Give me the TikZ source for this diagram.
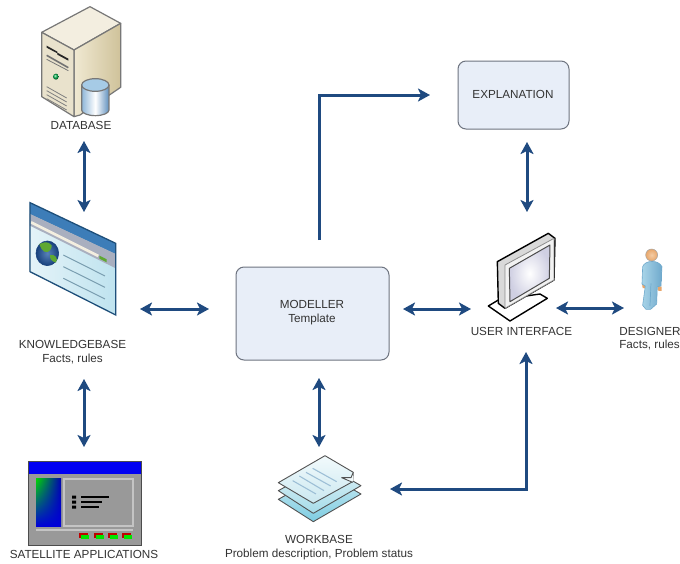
\documentclass[tikz,border=0pt]{standalone}
\usepackage{fontspec}
\setmainfont{Liberation Sans}
\usetikzlibrary{arrows.meta,shadings}
\definecolor{arrowblue}{HTML}{1F4A80}
\definecolor{boxfill}{HTML}{E8EEF8}
\definecolor{boxline}{HTML}{6E7480}
\definecolor{labeltext}{HTML}{333333}
\definecolor{srvtop}{HTML}{F3EEE0}
\definecolor{srvfront}{HTML}{E9E2CC}
\definecolor{srvsideA}{HTML}{F0E9D2}
\definecolor{srvsideB}{HTML}{CFC29A}
\definecolor{srvedge}{HTML}{777777}
\definecolor{cylA}{HTML}{8FB6D8}
\definecolor{cylB}{HTML}{5E8FBE}
\definecolor{cyltop}{HTML}{A6CBE6}
\definecolor{wintitle}{HTML}{3D7DB8}
\definecolor{winband}{HTML}{A9AFBF}
\definecolor{winedge}{HTML}{1E4F7A}
\definecolor{winbodyA}{HTML}{E4F3F8}
\definecolor{winbodyB}{HTML}{BFE3EF}
\definecolor{winline}{HTML}{7A9EB0}
\definecolor{globeland}{HTML}{5FA832}
\definecolor{globesea}{HTML}{2F63A8}
\definecolor{globedeep}{HTML}{17407C}
\definecolor{satgrey}{HTML}{999999}
\definecolor{satlight}{HTML}{C4C4C4}
\definecolor{skin}{HTML}{E8A66A}
\definecolor{skinlight}{HTML}{F4CDA6}
\definecolor{suitA}{HTML}{A8D4E8}
\definecolor{suitB}{HTML}{6FA9CC}
\definecolor{docA}{HTML}{F2FAFC}
\definecolor{docB}{HTML}{CBE8F0}
\definecolor{docC}{HTML}{E0F2F7}
\definecolor{docD}{HTML}{A6DCE9}
\definecolor{docE}{HTML}{CDEBF3}
\definecolor{docF}{HTML}{7ECDE2}
\definecolor{docline}{HTML}{9DBFD6}
\tikzset{
  flow/.style={draw=arrowblue,line width=3pt,arrows={Stealth[length=12pt,width=13pt,inset=3pt]-Stealth[length=12pt,width=13pt,inset=3pt]}},
  flowone/.style={draw=arrowblue,line width=3pt,arrows={-Stealth[length=12pt,width=13pt,inset=3pt]}},
  roundbox/.style={draw=boxline,line width=1pt,fill=boxfill,rounded corners=8pt,align=center,inner sep=0pt,font=\fontsize{11.7}{14}\selectfont,text=labeltext},
  lab/.style={align=center,inner sep=0pt,font=\fontsize{11.7}{14}\selectfont,text=labeltext},
  edge/.style={draw=#1,line width=.9pt,line join=round}
}
\begin{document}
\begin{tikzpicture}[x=1pt,y=-1pt]
\useasboundingbox (0,0) rectangle (680,563);
\fill[white] (0,0) rectangle (680,563);

% ---------- boxes
\node[roundbox,minimum width=153pt,minimum height=93pt] (modeller) at (312.5,313.5) {};
\node[lab] (modtext) at (312,313) {MODELLER\\Template};
\node[roundbox,minimum width=111pt,minimum height=68pt] (explain) at (513.5,95) {};
\node[lab] (extext) at (513,94) {EXPLANATION};

% ---------- server
\begin{scope}[x=.3333pt,y=-.3333pt]
  \draw[edge=srvedge,line width=1.2pt,fill=srvtop] (125,97) -- (270,20) -- (362,70) -- (222,150) -- cycle;
  \draw[edge=srvedge,line width=1.2pt,left color=srvsideA,right color=srvsideB] (222,150) -- (362,70) -- (362,262) -- (240,345) -- (222,350) -- cycle;
  \draw[edge=srvedge,line width=1.2pt,fill=srvfront] (125,97) -- (222,150) -- (222,350) -- (125,290) -- cycle;
  \fill[black!85] (140,137) -- (172,155) -- (172,160) -- (140,143) -- cycle (172,158) -- (205,176) -- (205,182) -- (172,164) -- cycle;
  \draw[black!55,line width=1.6pt] (140,166) -- (205,203);
  \draw[srvedge,line width=.8pt] (140,178) -- (205,212);
  \shade[ball color=teal!60!green] (168,230) circle (9);
  \draw[gray,line width=.8pt] (140,260) -- (200,294) (140,272) -- (200,306) (140,284) -- (200,318) (140,296) -- (200,330);
  \draw[edge=srvedge,line width=1.2pt,left color=cylA,right color=cylB,middle color=white] (245,255) -- (245,330) arc[start angle=180,end angle=0,x radius=41,y radius=17] -- (327,255);
  \draw[edge=srvedge,line width=1.2pt,fill=cyltop] (286,255) ellipse[x radius=41,y radius=19];
\end{scope}
\node[lab] (dblabel) at (81,125.5) {DATABASE};

% ---------- knowledge base window
\begin{scope}[x=.3333pt,y=-.3333pt,shift={(0,570)}]
  \fill[left color=winbodyA,right color=winbodyB] (90,72) -- (347,192) -- (347,375) -- (90,245) -- cycle;
  \fill[wintitle] (90,38) -- (347,160) -- (347,192) -- (90,72) -- cycle;
  \fill[winband] (90,72) -- (347,192) -- (347,235) -- (90,107) -- cycle;
  \draw[srvtop,line width=2.6pt] (93,97) -- (295,198);
  \fill[globeland] (298,197) -- (320,208) -- (320,217) -- (298,206) -- cycle;
  \draw[globedeep,line width=.6pt,inner color=globesea!80!white,outer color=globedeep] (142,190) ellipse[x radius=34,y radius=37];
  \fill[globeland] (118,162) .. controls (135,152) and (165,158) .. (152,178) .. controls (140,195) and (125,185) .. cycle;
  \fill[globeland] (150,195) .. controls (165,192) and (176,205) .. (168,218) .. controls (155,215) and (148,205) .. cycle;
  \draw[winline,line width=1pt] (190,195) -- (315,258) (190,230) -- (315,292) (190,265) -- (315,327);
  \draw[winedge,line width=1.3pt,line join=miter] (90,38) -- (347,160) -- (347,375) -- (90,245) -- cycle;
\end{scope}
\node[lab] (kblabel) at (72.5,352.5) {KNOWLEDGEBASE\\Facts, rules};

% ---------- satellite window
\fill[satgrey] (28,461) rectangle (141,545);
\fill[blue!95!black] (28,461) rectangle (141,474);
\draw[black!70,line width=.5pt] (28,461) rectangle (141,545);
\shade[lower left=blue!85!black,lower right=blue!85!black,upper left=green!85!black,upper right=blue!70!black] (36,478) rectangle (61,526);
\draw[satlight,line width=1.2pt] (64,479) rectangle (133,526);
\fill[black] (72,495.5) rectangle (76,498.5) (72,500.5) rectangle (76,503.5) (72,505.5) rectangle (76,508.5);
\draw[black,line width=1.6pt] (81,497) -- (109,497) (81,502) -- (102,502) (81,507) -- (99,507);
\draw[satlight,line width=2pt] (36,530) -- (133,530);
\foreach \bx in {79,94,108,122}{
  \fill[red!75!black] (\bx,533) rectangle (\bx+9,538);
  \fill[green!90!black] (\bx+2,535) rectangle (\bx+10,539);
}
\node[lab] (satlabel) at (84,554.5) {SATELLITE APPLICATIONS};

% ---------- monitor
\begin{scope}[shift={(460,220)},x=.3333pt,y=-.3333pt]
  \draw[edge=black,fill=white,line width=1.4pt] (85,258) -- (115,240) -- (240,222) -- (262,235) -- (150,303) -- cycle;
  \draw[edge=black,fill=gray!30,line width=1.4pt] (112,125) -- (265,40) -- (285,55) -- (282,180) -- (135,265) -- (115,250) -- cycle;
  \draw[edge=black!45,fill=gray!10,line width=.8pt] (135,135) -- (282,55) -- (282,180) -- (135,265) -- cycle;
  \draw[edge=black!70,inner color=white,outer color=blue!25!gray!30!white,line width=1pt] (148,145) -- (270,75) -- (268,175) -- (150,245) -- cycle;
\end{scope}
\node[lab] (uilabel) at (521.5,331.5) {USER INTERFACE};

% ---------- person
\begin{scope}[shift={(460,220)},x=.3333pt,y=-.3333pt]
  \fill[skin] (594,198) -- (605,200) -- (605,213) -- (594,212) -- cycle;
  \fill[skin] (546,190) -- (555,192) -- (555,205) -- (548,204) -- cycle;
  \draw[edge=suitB,line width=.6pt,left color=suitA,right color=suitB] (548,140) .. controls (555,120) and (595,118) .. (606,140) -- (603,198) -- (592,200) -- (590,252) -- (572,268) -- (558,268) -- (548,256) -- (556,198) -- (546,192) -- cycle;
  \draw[suitB,line width=.7pt] (573,190) -- (570,258);
  \draw[gray!70,line width=.5pt,inner color=skinlight,outer color=skin] (575,105) circle (18);
\end{scope}
\node[lab] (dslabel) at (650,331.5) {DESIGNER};
\node[lab] (dslabel2) at (649.5,345.5) {Facts, rules};

% ---------- document stack
\begin{scope}[shift={(220,440)},x=.3333pt,y=-.3333pt]
  \draw[edge=gray!30!black!80,top color=docE,bottom color=docF] (175,178) -- (315,100) -- (423,162) -- (280,245) -- cycle;
  \draw[edge=gray!30!black!80,top color=docC,bottom color=docD] (175,152) -- (315,75) -- (423,137) -- (280,220) -- cycle;
  \draw[edge=gray!30!black!80,top color=docA,bottom color=docB] (175,128) -- (315,47) -- (400,97) -- (398,125) -- (280,190) -- cycle;
  \draw[edge=gray!30!black!80,fill=docA] (400,97) -- (393,113) -- (365,113) -- (398,127);
  \draw[docline,line width=1.1pt] (218,122) -- (288,162) (238,108) -- (312,152) (258,97) -- (332,138) (278,85) -- (350,125);
\end{scope}
\node[lab] (wblabel) at (319,547.5) {WORKBASE\\Problem description, Problem status};

% ---------- connector end points
\coordinate (dbend) at (84,141);
\coordinate (kbtop) at (84,212);
\coordinate (kbbot) at (84,379);
\coordinate (sattop) at (84,447);
\coordinate (kbright) at (140,309);
\coordinate (modleft) at (209,309);
\coordinate (modright) at (403,309);
\coordinate (uileft) at (471,309);
\coordinate (uiright) at (556,308);
\coordinate (dsleft) at (624,308);
\coordinate (exbot) at (527,142);
\coordinate (uitop) at (527,212);
\coordinate (modbot) at (319,378);
\coordinate (wbtop) at (319,447);
\coordinate (modtop) at (319,240);
\coordinate (exleft) at (430,95);
\coordinate (wbright) at (390,489);
\coordinate (uibot) at (526,352);

% ---------- connectors
\draw[flow] (dbend) -- (kbtop);
\draw[flow] (kbbot) -- (sattop);
\draw[flow] (kbright) -- (modleft);
\draw[flow] (modright) -- (uileft);
\draw[flow] (uiright) -- (dsleft);
\draw[flow] (exbot) -- (uitop);
\draw[flow] (modbot) -- (wbtop);
\draw[flowone] (modtop) |- (exleft);
\draw[flow] (wbright) -| (uibot);
\end{tikzpicture}
\end{document}
